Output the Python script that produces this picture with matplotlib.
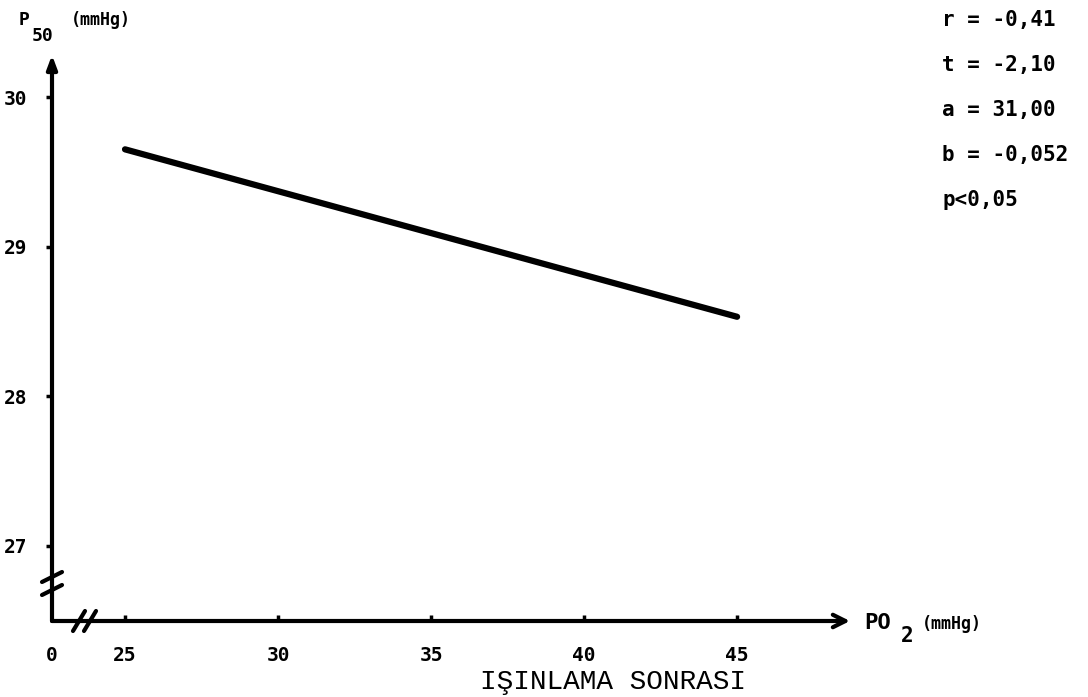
import matplotlib
matplotlib.use("Agg")
import matplotlib.pyplot as plt

# Regression line
po2 = [25, 45]
p50 = [29.65, 28.53]

x_ticks = [25, 30, 35, 40, 45]
y_ticks = [27, 28, 29, 30]
stats = ["r = -0,41", "t = -2,10", "a = 31,00", "b = -0,052", "p<0,05"]

W, H = 1088, 697
MONO = "DejaVu Sans Mono"

fig = plt.figure(figsize=(W / 100, H / 100), dpi=100)
ax = fig.add_axes([52 / W, 76 / H, 798 / W, 566 / H])

# axis origin sits on a broken scale
x0, x1 = 22.614, 48.69
y0, y1 = 26.495, 30.281
ax.set_xlim(x0, x1)
ax.set_ylim(y0, y1)
for s in ax.spines.values():
    s.set_visible(False)

# axes with arrows
ax.annotate("", xy=(x1, y0), xytext=(x0, y0),
            arrowprops=dict(arrowstyle="->,head_length=0.9,head_width=0.45",
                            lw=3, color="black", shrinkA=0, shrinkB=0),
            annotation_clip=False)
ax.annotate("", xy=(x0, y1), xytext=(x0, y0),
            arrowprops=dict(arrowstyle="-|>,head_length=0.8,head_width=0.3",
                            lw=3, color="black", shrinkA=0, shrinkB=0),
            annotation_clip=False)

# break marks
dx = 1 / 30.6
dy = 1 / 149.5
for off in (0, 11):
    ax.plot([x0 + (21 + off) * dx, x0 + (33 + off) * dx],
            [y0 - 10 * dy, y0 + 10 * dy], color="black", lw=3,
            solid_capstyle="round", clip_on=False)
for off in (0, 13):
    ax.plot([x0 - 10 * dx, x0 + 10 * dx],
            [y0 + (26 + off) * dy, y0 + (36 + off) * dy], color="black",
            lw=3, solid_capstyle="round", clip_on=False)

# regression line
ax.plot(po2, p50, color="black", lw=4.5, solid_capstyle="round")

ax.set_xticks([x0] + x_ticks)
ax.set_xticklabels(["0"] + [str(v) for v in x_ticks])
ax.set_yticks(y_ticks)
ax.set_yticklabels([str(v) for v in y_ticks])
ax.tick_params(axis="x", direction="in", length=4, width=2.5, pad=18,
               labelsize=14)
ax.tick_params(axis="y", direction="out", length=4, width=2.5, pad=14,
               labelsize=14)
ax.xaxis.get_major_ticks()[0].tick1line.set_visible(False)
for lab in ax.get_xticklabels() + ax.get_yticklabels():
    lab.set_family(MONO)
    lab.set_weight("bold")

# axis titles
txt = dict(family=MONO, weight="bold", va="center")
fig.text(19 / W, 1 - 20 / H, "P", fontsize=13, **txt)
fig.text(32 / W, 1 - 36 / H, "50", fontsize=13, **txt)
fig.text(71 / W, 1 - 20 / H, "(mmHg)", fontsize=12, **txt)
fig.text(864 / W, 1 - 623 / H, "PO", fontsize=16, **txt)
fig.text(901 / W, 1 - 636 / H, "2", fontsize=15, **txt)
fig.text(922 / W, 1 - 624 / H, "(mmHg)", fontsize=12, **txt)

fig.text(613 / W, 1 - 682 / H, "IŞINLAMA SONRASI", fontsize=20,
         family="Liberation Mono", ha="center", va="center")

for i, s in enumerate(stats):
    fig.text(942 / W, 1 - (20 + 45 * i) / H, s, fontsize=15, **txt)

fig.savefig("out.png", dpi=100)
